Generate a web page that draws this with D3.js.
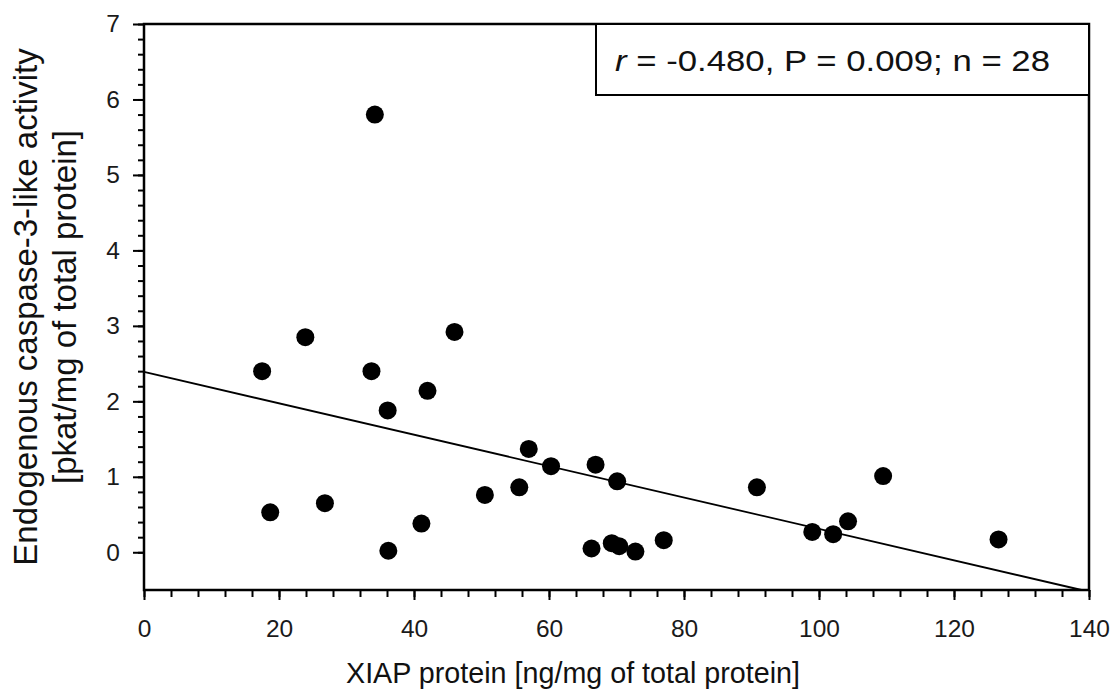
<!DOCTYPE html>
<html>
<head>
<meta charset="utf-8">
<script src="https://cdn.jsdelivr.net/npm/d3@7"></script>
<style>
    body { margin: 0; background: #fff; }
    svg { display: block; font-family: "Liberation Sans", Arial, sans-serif; }
</style>
</head>
<body>
<div id="chart"></div>
<script>
const width = 1113;
const height = 690;
const margin = { top: 24, right: 24, bottom: 100, left: 144 };

// XIAP protein [ng/mg] vs caspase-3-like activity [pkat/mg]
const xiap = [17.5, 18.7, 23.9, 26.8, 33.7, 34.2, 36.1, 36.2, 41.1, 42.0,
    46.0, 50.5, 55.6, 57.0, 60.3, 66.3, 66.9, 69.3, 70.1, 70.4,
    72.8, 77.0, 90.8, 99.0, 102.1, 104.3, 109.5, 126.6];
const caspase = [2.40, 0.53, 2.85, 0.65, 2.40, 5.80, 1.88, 0.02, 0.38, 2.14,
    2.92, 0.76, 0.86, 1.37, 1.14, 0.05, 1.16, 0.12, 0.94, 0.08,
    0.01, 0.16, 0.86, 0.27, 0.24, 0.41, 1.01, 0.17];

// regression line end points
const fitX = [0, 138.9];
const fitY = [2.39, -0.5];

const xTicks = d3.range(0, 141, 20);
const yTicks = d3.range(0, 8, 1);
const statText = ["r", " = -0.480, P = 0.009; n = 28"];

const innerW = width - margin.left - margin.right;
const innerH = height - margin.top - margin.bottom;

const svg = d3.select("#chart")
    .append("svg")
    .attr("width", width)
    .attr("height", height);

const g = svg.append("g")
    .attr("transform", `translate(${margin.left}, ${margin.top})`);

const x = d3.scaleLinear().domain([0, 140]).range([0, innerW]);
const y = d3.scaleLinear().domain([-0.5, 7]).range([innerH, 0]);

// minor ticks
g.append("g")
    .attr("class", "axis x minor")
    .attr("transform", `translate(0, ${innerH})`)
    .call(d3.axisBottom(x).tickValues(d3.range(0, 141, 4)).tickSize(7).tickFormat(""));

g.append("g")
    .attr("class", "axis y minor")
    .call(d3.axisLeft(y).tickValues(d3.range(0, 7.01, 0.2)).tickSize(6).tickFormat(""));

// major ticks
g.append("g")
    .attr("class", "axis x")
    .attr("transform", `translate(0, ${innerH})`)
    .call(d3.axisBottom(x).tickValues(xTicks).tickSize(10).tickPadding(20));

g.append("g")
    .attr("class", "axis y")
    .call(d3.axisLeft(y).tickValues(yTicks).tickSize(11).tickPadding(13));

g.selectAll(".axis .domain").remove();
g.selectAll(".axis line")
    .attr("stroke", "#000")
    .attr("stroke-width", 2);
g.selectAll(".axis text")
    .attr("font-size", 24.5)
    .attr("fill", "#1a1a1a");

// frame
g.append("rect")
    .attr("x", 0)
    .attr("y", 0)
    .attr("width", innerW)
    .attr("height", innerH)
    .attr("fill", "none")
    .attr("stroke", "#000")
    .attr("stroke-width", 2.5);

// regression line
g.append("line")
    .attr("x1", x(fitX[0]))
    .attr("y1", y(fitY[0]))
    .attr("x2", x(fitX[1]))
    .attr("y2", y(fitY[1]))
    .attr("stroke", "#000")
    .attr("stroke-width", 1.8);

// points
g.append("g")
    .attr("class", "points")
    .selectAll("circle")
    .data(xiap)
    .enter()
    .append("circle")
    .attr("cx", d => x(d))
    .attr("cy", (d, i) => y(caspase[i]))
    .attr("r", 9)
    .attr("fill", "#000");

// stats box
const box = g.append("g")
    .attr("class", "stats");

box.append("rect")
    .attr("x", 452)
    .attr("y", 0)
    .attr("width", innerW - 452)
    .attr("height", 71)
    .attr("fill", "#fff")
    .attr("stroke", "#000")
    .attr("stroke-width", 2);

// the figure's stats text is stretched sideways
const st = box.append("text")
    .attr("x", 471)
    .attr("y", 47)
    .attr("font-size", 30)
    .attr("textLength", 435)
    .attr("lengthAdjust", "spacingAndGlyphs")
    .attr("fill", "#111");
st.append("tspan").attr("font-style", "italic").text(statText[0]);
st.append("tspan").text(statText[1]);

// axis titles
svg.append("text")
    .attr("x", 573)
    .attr("y", 683)
    .attr("text-anchor", "middle")
    .attr("font-size", 28.7)
    .attr("fill", "#111")
    .text("XIAP protein [ng/mg of total protein]");

const yTitle = svg.append("text")
    .attr("transform", `translate(0, ${margin.top + innerH / 2}) rotate(-90)`)
    .attr("text-anchor", "middle")
    .attr("font-size", 33)
    .attr("fill", "#111");
yTitle.append("tspan").attr("x", 0).attr("y", 37).text("Endogenous caspase-3-like activity");
yTitle.append("tspan").attr("x", 0).attr("y", 76).text("[pkat/mg of total protein]");
</script>
</body>
</html>
